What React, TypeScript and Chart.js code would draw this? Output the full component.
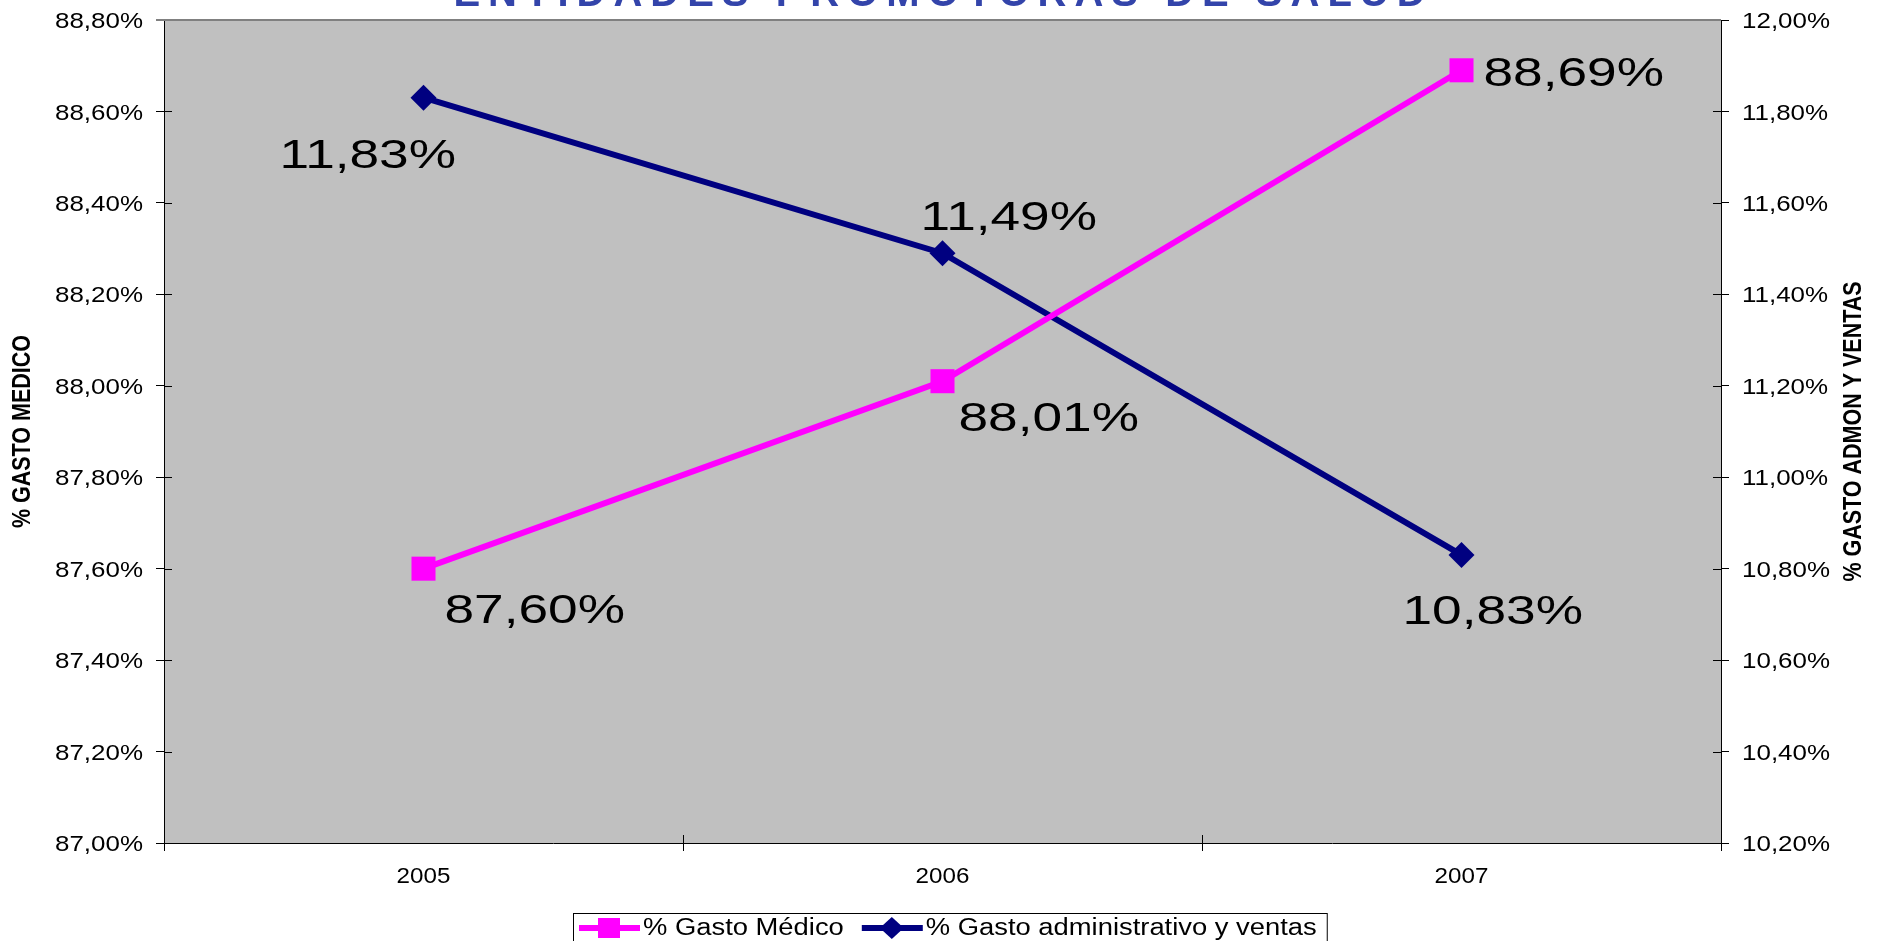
import React, { useEffect, useRef } from 'react';
import { Chart, registerables } from 'chart.js';

Chart.register(...registerables);

// ---------- data ----------
const years = ['2005', '2006', '2007'];
const gastoMedico = [87.6, 88.01, 88.69];
const gastoAdmin = [11.83, 11.49, 10.83];
const leftAxisRange = [87.0, 88.8];
const rightAxisRange = [10.2, 12.0];
const tickStep = 0.2;
const seriesLabels = ['% Gasto Médico', '% Gasto administrativo y ventas'];
const chartTitle = 'ENTIDADES PROMOTORAS DE SALUD';
const leftAxisTitle = '% GASTO MEDICO';
const rightAxisTitle = '% GASTO ADMON Y VENTAS';

// label placement (px offsets from the point: left edge x, centre y)
const medicoLabelOffsets = [[21, 43], [16, 39], [22, 5]];
const adminLabelOffsets = [[-144, 59], [-22, -34], [-59, 58]];

const FONT = '"Liberation Sans", Arial, sans-serif';
const fmt = (v: number) => v.toFixed(2).replace('.', ',') + '%';

function stretchedText(ctx: CanvasRenderingContext2D, text: string, x: number, y: number, sx: number, align: 'left' | 'right' | 'center') {
  const w = ctx.measureText(text).width * sx;
  let left = x;
  if (align === 'right') left = x - w;
  if (align === 'center') left = x - w / 2;
  ctx.save();
  ctx.translate(left, y);
  ctx.scale(sx, 1);
  ctx.textAlign = 'left';
  ctx.fillText(text, 0, 0);
  ctx.restore();
  return w;
}

const decorPlugin = {
  id: 'decor',
  beforeDraw(chart: any) {
    const { ctx, chartArea: a } = chart;
    ctx.save();
    ctx.fillStyle = '#ffffff';
    ctx.fillRect(0, 0, chart.width, chart.height);
    ctx.fillStyle = '#c0c0c0';
    ctx.fillRect(a.left, a.top, a.right - a.left, a.bottom - a.top);
    ctx.restore();
  },
  beforeDatasetsDraw(chart: any) {
    const { ctx, chartArea: a, scales } = chart;
    ctx.save();
    ctx.strokeStyle = '#000';
    ctx.lineWidth = 1;
    const y = scales.y, y1 = scales.y1, x = scales.x;
    y.ticks.forEach((_t: any, i: number) => {
      const py = Math.round(y.getPixelForTick(i)) + 0.5;
      ctx.beginPath(); ctx.moveTo(a.left, py); ctx.lineTo(a.left + 8, py); ctx.stroke();
    });
    y1.ticks.forEach((_t: any, i: number) => {
      const py = Math.round(y1.getPixelForTick(i)) + 0.5;
      ctx.beginPath(); ctx.moveTo(a.right - 8, py); ctx.lineTo(a.right, py); ctx.stroke();
    });
    for (let i = 0; i <= years.length; i++) {
      const px = Math.round(x.getPixelForValue(i - 0.5)) + 0.5;
      ctx.beginPath(); ctx.moveTo(px, a.bottom - 8); ctx.lineTo(px, a.bottom); ctx.stroke();
    }
    ctx.strokeStyle = '#808080';
    ctx.lineWidth = 2;
    ctx.beginPath(); ctx.moveTo(a.left - 8, a.top); ctx.lineTo(a.right, a.top); ctx.stroke();
    ctx.restore();
  },
  afterDraw(chart: any) {
    const { ctx, chartArea: a, scales } = chart;
    const y = scales.y, y1 = scales.y1, x = scales.x;
    ctx.save();
    ctx.fillStyle = '#000';
    ctx.textBaseline = 'middle';

    // tick labels
    ctx.font = `22px ${FONT}`;
    y.ticks.forEach((t: any, i: number) => {
      stretchedText(ctx, fmt(t.value), a.left - 21, y.getPixelForTick(i) + 2, 1.18, 'right');
    });
    y1.ticks.forEach((t: any, i: number) => {
      stretchedText(ctx, fmt(t.value), a.right + 21, y1.getPixelForTick(i) + 2, 1.18, 'left');
    });
    ctx.font = `22px ${FONT}`;
    years.forEach((lab, i) => {
      stretchedText(ctx, lab, x.getPixelForValue(i), a.bottom + 34, 1.1, 'center');
    });

    // axis titles
    ctx.font = `bold 25px ${FONT}`;
    const drawVert = (text: string, cx: number) => {
      ctx.save();
      ctx.translate(cx, (a.top + a.bottom) / 2);
      ctx.rotate(-Math.PI / 2);
      stretchedText(ctx, text, 0, 0, 0.86, 'center');
      ctx.restore();
    };
    drawVert(leftAxisTitle, 23);
    drawVert(rightAxisTitle, 1854);

    // chart title (cut off at the top)
    ctx.save();
    ctx.font = `bold 40px ${FONT}`;
    ctx.fillStyle = '#3344aa';
    ctx.textBaseline = 'alphabetic';
    (ctx as any).letterSpacing = '8px';
    const tw = ctx.measureText(chartTitle).width - 8;
    ctx.textAlign = 'left';
    ctx.fillText(chartTitle, chart.width / 2 - tw / 2, 6);
    ctx.restore();

    // data labels
    ctx.font = `40px ${FONT}`;
    ctx.fillStyle = '#000';
    const drawLabels = (dsIndex: number, values: number[], offs: number[][]) => {
      const meta = chart.getDatasetMeta(dsIndex);
      meta.data.forEach((pt: any, i: number) => {
        stretchedText(ctx, fmt(values[i]), pt.x + offs[i][0], pt.y + offs[i][1], 1.33, 'left');
      });
    };
    drawLabels(0, gastoMedico, medicoLabelOffsets);
    drawLabels(1, gastoAdmin, adminLabelOffsets);

    // legend
    const boxLeft = 573, boxTop = 913;
    const cy = 928;
    let cursor = boxLeft + 6;
    ctx.font = `23px ${FONT}`;
    const ends: number[] = [];
    chart.data.datasets.forEach((ds: any) => {
      ctx.strokeStyle = ds.borderColor;
      ctx.lineWidth = 6;
      ctx.beginPath(); ctx.moveTo(cursor, cy); ctx.lineTo(cursor + 61, cy); ctx.stroke();
      const mx = cursor + 30;
      ctx.fillStyle = ds.pointBackgroundColor;
      if (ds.pointStyle === 'rect') {
        ctx.fillRect(mx - 11, cy - 10, 22, 20);
      } else {
        ctx.beginPath();
        ctx.moveTo(mx, cy - 11); ctx.lineTo(mx + 12, cy); ctx.lineTo(mx, cy + 11); ctx.lineTo(mx - 12, cy);
        ctx.closePath(); ctx.fill();
      }
      ctx.fillStyle = '#000';
      const w = stretchedText(ctx, ds.label, cursor + 64, cy + 1, 1.19, 'left');
      cursor = cursor + 64 + w + 18;
      ends.push(cursor - 18);
    });
    ctx.strokeStyle = '#000';
    ctx.lineWidth = 1;
    ctx.strokeRect(boxLeft + 0.5, boxTop + 0.5, ends[ends.length - 1] + 10 - boxLeft, 60);
    ctx.restore();
  },
};

export default function App() {
  const ref = useRef<HTMLCanvasElement | null>(null);
  useEffect(() => {
    document.body.style.margin = '0';
    document.body.style.overflow = 'hidden';
    const canvas = ref.current!;
    const chart = new Chart(canvas, {
      type: 'line',
      data: {
        labels: years,
        datasets: [
          {
            label: seriesLabels[0],
            data: gastoMedico,
            yAxisID: 'y',
            borderColor: '#ff00ff',
            backgroundColor: '#ff00ff',
            pointBackgroundColor: '#ff00ff',
            pointBorderColor: '#ff00ff',
            borderWidth: 6,
            pointStyle: 'rect',
            pointRadius: 17,
            pointBorderWidth: 0,
            tension: 0,
          },
          {
            label: seriesLabels[1],
            data: gastoAdmin,
            yAxisID: 'y1',
            borderColor: '#000080',
            backgroundColor: '#000080',
            pointBackgroundColor: '#000080',
            pointBorderColor: '#000080',
            borderWidth: 6,
            pointStyle: 'rectRot',
            pointRadius: 13,
            pointBorderWidth: 0,
            tension: 0,
          },
        ],
      },
      options: {
        responsive: false,
        animation: false,
        devicePixelRatio: 1,
        layout: { padding: { top: 20, left: 0, right: 0, bottom: 0 } },
        plugins: {
          legend: { display: false },
          title: { display: false },
          tooltip: { enabled: false },
        },
        scales: {
          x: {
            type: 'category',
            offset: true,
            grid: { offset: true, drawOnChartArea: false, drawTicks: true, tickLength: 8, color: '#000' },
            border: { display: true, color: '#000', width: 1 },
            ticks: { display: false },
            afterFit: (s: any) => { s.height = 98; },
          },
          y: {
            type: 'linear',
            position: 'left',
            min: leftAxisRange[0],
            max: leftAxisRange[1],
            ticks: { display: false, stepSize: tickStep },
            grid: { drawOnChartArea: false, drawTicks: true, tickLength: 8, color: '#000' },
            border: { display: true, color: '#000', width: 1 },
            afterFit: (s: any) => { s.width = 164; },
          },
          y1: {
            type: 'linear',
            position: 'right',
            min: rightAxisRange[0],
            max: rightAxisRange[1],
            ticks: { display: false, stepSize: tickStep },
            grid: { drawOnChartArea: false, drawTicks: true, tickLength: 8, color: '#000' },
            border: { display: true, color: '#000', width: 1 },
            afterFit: (s: any) => { s.width = 158; },
          },
        },
      },
      plugins: [decorPlugin],
    });
    return () => chart.destroy();
  }, []);
  return (
    <div style={{ width: 1879, height: 941 }}>
      <canvas ref={ref} width={1879} height={941} style={{ display: 'block' }} />
    </div>
  );
}
